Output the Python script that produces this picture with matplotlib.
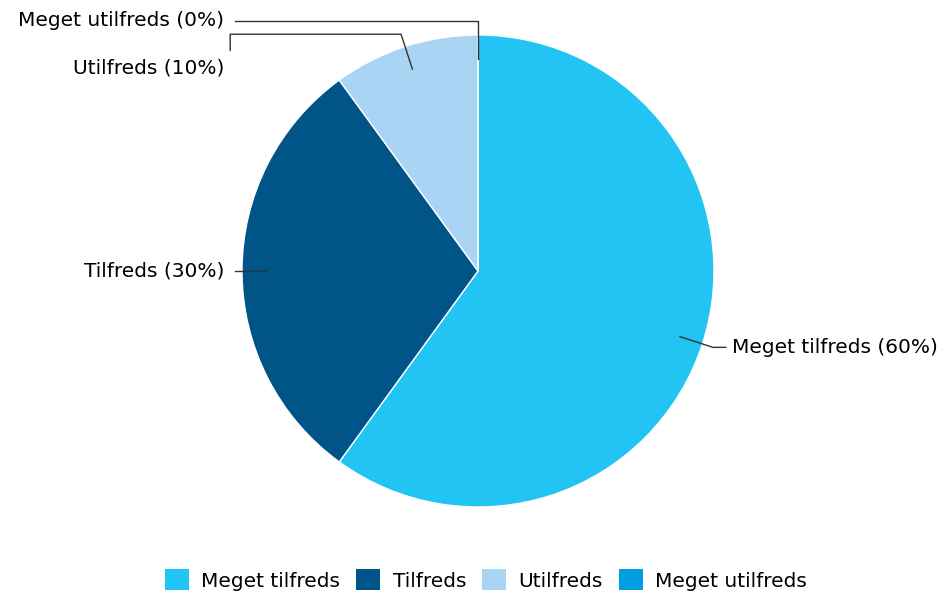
import numpy as np
import matplotlib.pyplot as plt
from matplotlib.patches import Patch

# data
categories = ['Meget tilfreds', 'Tilfreds', 'Utilfreds', 'Meget utilfreds']
values = [60, 30, 10, 0]
colors = ['#22c4f4', '#005487', '#a9d4f4', '#009fe3']

W, H = 945, 592
fig = plt.figure(figsize=(W / 100, H / 100), dpi=100)
cx, cy, R = 478, 271, 236
ax = fig.add_axes([(cx - R) / W, (H - cy - R) / H, 2 * R / W, 2 * R / H])

wedges, _ = ax.pie(values, colors=colors, startangle=90, counterclock=False,
                   radius=1, wedgeprops=dict(edgecolor='white', linewidth=1))
ax.set_xlim(-1, 1)
ax.set_ylim(-1, 1)
ax.set_aspect('equal')
ax.axis('off')
for w in wedges:
    w.set_clip_on(False)

fs = 14.5
lc = '#333333'
total = sum(values)
start = 90
mids = []
for v in values:
    mids.append(np.radians(start - v / total * 360 / 2))
    start -= v / total * 360


def pt(a, r):
    return r * np.cos(a), r * np.sin(a)


def lbl(i):
    return f'{categories[i]} ({values[i]}%)'


# Meget tilfreds: right side
x0, y0 = pt(mids[0], 0.9)
x1, y1 = pt(mids[0], 1.047)
ax.plot([x0, x1, 1.05], [y0, y1, y1], color=lc, lw=1, clip_on=False)
ax.text(1.075, y1, lbl(0), ha='left', va='center', fontsize=fs)

# Tilfreds: left side
x0, y0 = pt(mids[1], 0.9)
ax.plot([x0, -1.03], [y0, y0], color=lc, lw=1, clip_on=False)
ax.text(-1.075, y0, lbl(1), ha='right', va='center', fontsize=fs)

# Utilfreds
x0, y0 = pt(mids[2], 0.9)
x1, y1 = pt(mids[2], 1.055)
ax.plot([x0, x1, -1.05, -1.05], [y0, y1, y1, 0.935], color=lc, lw=1, clip_on=False)
ax.text(-1.075, 0.86, lbl(2), ha='right', va='center', fontsize=fs)

# Meget utilfreds
x0, y0 = pt(mids[3], 0.9)
ax.plot([x0, x0, -1.03], [y0, 1.06, 1.06], color=lc, lw=1, clip_on=False)
ax.text(-1.075, 1.06, lbl(3), ha='right', va='center', fontsize=fs)

handles = [Patch(facecolor=c, edgecolor='none') for c in colors]
fig.legend(handles, categories, loc='center', bbox_to_anchor=(486 / W, (H - 580) / H),
           ncol=4, frameon=False, fontsize=fs, handlelength=1.2, handleheight=1.2,
           handletextpad=0.6, columnspacing=0.8)

fig.savefig('out.png', dpi=100)
